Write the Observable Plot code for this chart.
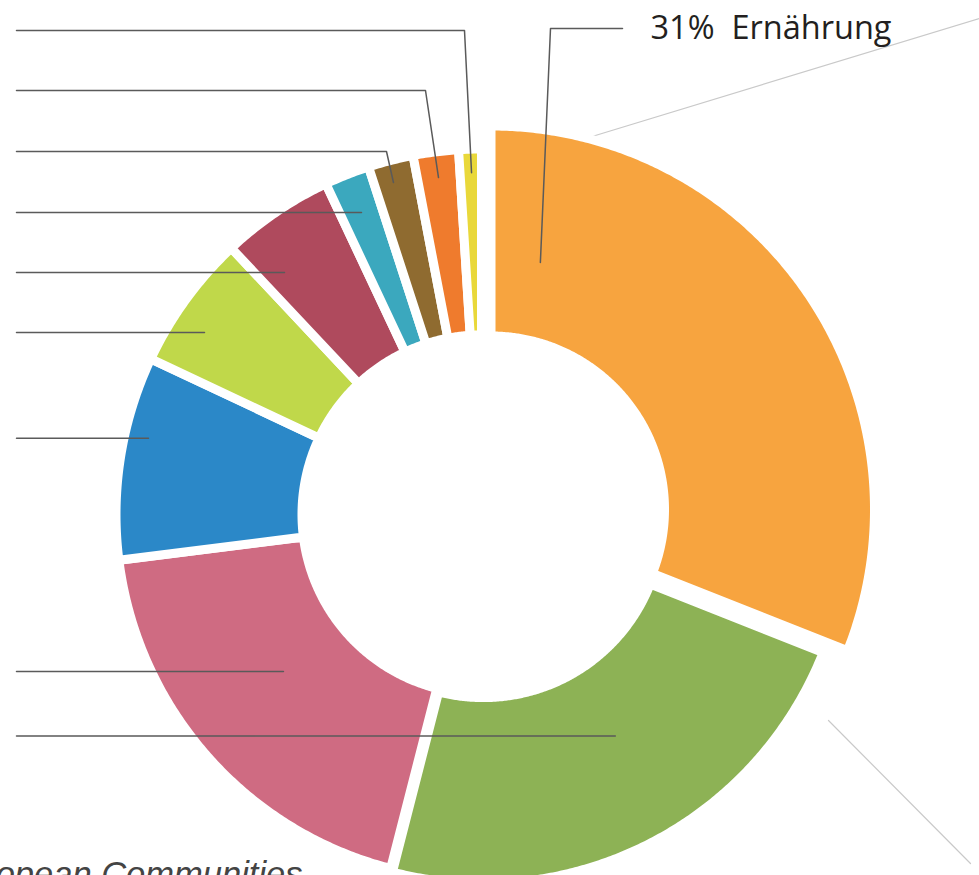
<!DOCTYPE html>
<html><head><meta charset="utf-8">
<script src="https://cdn.jsdelivr.net/npm/d3@7"></script>
<script src="https://cdn.jsdelivr.net/npm/@observablehq/plot@0.6"></script>
<style>
html,body{margin:0;padding:0;background:#fff;overflow:hidden}
#chart svg{display:block;overflow:hidden;background:#fff}
#chart svg text{white-space:pre}
</style></head><body><div id="chart"></div>
<script>
// ---- data ----
const categories = ["Ernährung","Wohnen","Mobilität","Freizeit & Kultur","Kleidung","Möbel & Haushalt","Gesundheit","Kommunikation","Bildung","Sonstiges"];
const shares = [31, 23, 19, 9, 6, 5, 2, 2, 2, 1];
const colors = ["#F7A43F","#8DB255","#CF6B82","#2B88C8","#C0D84A","#AF4A5D","#3BA8BE","#8F6B30","#EF7B2D","#E9D83A"];
const headline = "31%  Ernährung";
const source = "European Communities";

// ---- layout (data units = pixels, origin at donut centre, y up) ----
const W = 979, H = 875, CX = 481, CY = 514;
const ring = {inner: 179.5, outer: 365.5, gap: 9};
const sliceShift = {0: {dx: 9.5, dy: 5, inner: 173.5, outer: 383.5}, 1: {dx: 1.8, dy: -3.6}};
// leader anchors: category index, angle (deg, clockwise from top), radius, label row, elbow x
const leaderAnchors = [
  {i: 9, angle: -1.67, r: 342, row: 484, elbowX: -17},
  {i: 8, angle: -7.27, r: 339.7, row: 424, elbowX: -56},
  {i: 7, angle: -14.85, r: 343.5, row: 363, elbowX: -95},
  {i: 6, angle: -21.67, r: 325},
  {i: 5, angle: -39.15, r: 312},
  {i: 4, angle: -56.7, r: 331.4},
  {i: 3, angle: -77.1, r: 341.6},
  {i: 2, angle: 231.6, r: 252.7},
  {i: 1, angle: 148.8, r: 254.8}
];
const leaderStartX = -465;
const headAnchor = {i: 0, angle: 11.3, r: 252, cornerX: 69, endX: 141, row: 486};
const connectors = [
  {id: "c1", x1: 104, y1: 376, x2: 498, y2: 496},
  {id: "c2", x1: 347, y1: -206, x2: 489, y2: -349}
];

const rad = Math.PI / 180;
const arcs = d3.pie().sort(null).value(d => d)(shares);

const slicePts = [];
arcs.forEach((p, i) => {
  const o = sliceShift[i] || {};
  const dx = o.dx || 0, dy = o.dy || 0;
  const rIn = o.inner ?? ring.inner, rOut = o.outer ?? ring.outer;
  const n = Math.max(2, Math.ceil((p.endAngle - p.startAngle) / (0.4 * rad)));
  const pts = [];
  for (let k = 0; k <= n; k++) {
    const a = p.startAngle + (p.endAngle - p.startAngle) * k / n;
    pts.push([dx + rOut * Math.sin(a), dy + rOut * Math.cos(a)]);
  }
  for (let k = n; k >= 0; k--) {
    const a = p.startAngle + (p.endAngle - p.startAngle) * k / n;
    pts.push([dx + rIn * Math.sin(a), dy + rIn * Math.cos(a)]);
  }
  pts.push(pts[0]);
  pts.forEach(([x, y]) => slicePts.push({cat: categories[i], color: colors[i], x, y}));
});

function anchorPoint(a) {
  const o = sliceShift[a.i] || {};
  return [(o.dx || 0) + a.r * Math.sin(a.angle * rad), (o.dy || 0) + a.r * Math.cos(a.angle * rad)];
}

const leaderPts = [];
leaderAnchors.forEach(a => {
  const [ex, ey] = anchorPoint(a);
  const row = a.row ?? ey;
  const id = categories[a.i];
  leaderPts.push({id, x: leaderStartX, y: row});
  if (a.elbowX != null) leaderPts.push({id, x: a.elbowX, y: row});
  leaderPts.push({id, x: ex, y: ey});
});
{
  const [ex, ey] = anchorPoint(headAnchor);
  const id = categories[headAnchor.i];
  leaderPts.push({id, x: headAnchor.endX, y: headAnchor.row});
  leaderPts.push({id, x: headAnchor.cornerX, y: headAnchor.row});
  leaderPts.push({id, x: ex, y: ey});
}
const connectorPts = connectors.flatMap(c => [{id: c.id, x: c.x1, y: c.y1}, {id: c.id, x: c.x2, y: c.y2}]);

const chart = Plot.plot({
  width: W, height: H,
  margin: 0,
  x: {domain: [-CX, W - CX], axis: null},
  y: {domain: [-(H - CY), CY], axis: null},
  color: {type: "identity"},
  marks: [
    Plot.line(connectorPts, {x: "x", y: "y", z: "id", stroke: "#c9c9c9", strokeWidth: 1.2}),
    Plot.line(slicePts, {x: "x", y: "y", z: "cat", fill: "color", stroke: "#fff", strokeWidth: ring.gap, strokeLinejoin: "round"}),
    Plot.line(leaderPts, {x: "x", y: "y", z: "id", stroke: "#5a5a5a", strokeWidth: 1.5}),
    Plot.text([headline], {x: () => 169, y: () => 486.4, text: d => d, textAnchor: "start", fontSize: 32.5, fontFamily: "Open Sans", fill: "#231f20"}),
    Plot.text([source], {x: () => -179, y: () => -360, text: d => d, textAnchor: "end", fontSize: 34.5, fontFamily: "Liberation Sans", fontStyle: "italic", fill: "#444"})
  ]
});
document.getElementById("chart").appendChild(chart);
</script>
</body></html>
